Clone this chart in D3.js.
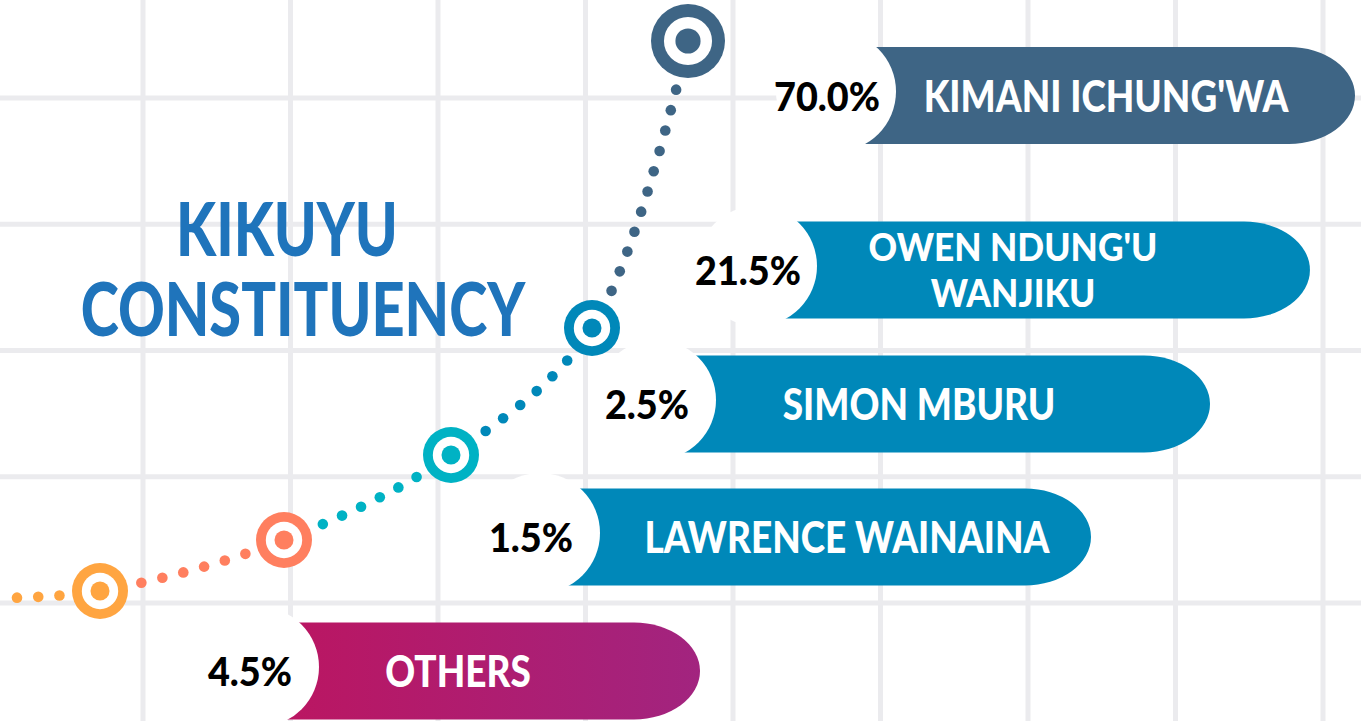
<!DOCTYPE html>
<html>
<head>
<meta charset="utf-8">
<script src="https://cdn.jsdelivr.net/npm/d3@7"></script>
<style>
  html, body { margin: 0; padding: 0; background: #fff; overflow: hidden; }
  svg { display: block; }
</style>
</head>
<body>
<svg id="chart" width="1361" height="721"></svg>
<script>
// ---- data ----
var candidates = ["KIMANI ICHUNG'WA", "OWEN NDUNG'U WANJIKU", "SIMON MBURU", "LAWRENCE WAINAINA", "OTHERS"];
var nameLines = [["KIMANI ICHUNG'WA"], ["OWEN NDUNG'U", "WANJIKU"], ["SIMON MBURU"], ["LAWRENCE WAINAINA"], ["OTHERS"]];
var shares = [70.0, 21.5, 2.5, 1.5, 4.5];
var barStart = ["#3e6585", "#0088b9", "#0088b9", "#0088b9", "#bc1560"];
var barEnd = ["#3e6585", "#0088b9", "#0088b9", "#0088b9", "#a2247f"];
var markerColors = ["#3e6585", "#0088b9", "#00b2c4", "#ff7f5f", "#ffa541"];
var titleLines = ["KIKUYU", "CONSTITUENCY"];

var width = 1361, height = 721;
var svg = d3.select("#chart");
var defs = svg.append("defs");

// ---- layout scales (infographic is laid out by rank, not by value) ----
var rowY = d3.scaleOrdinal().domain(candidates).range([95.5, 270, 404, 537, 671]);
var badgeX = d3.scaleOrdinal().domain(candidates).range([836, 757, 656, 540, 259]);
var barRight = d3.scaleOrdinal().domain(candidates).range([1355, 1310, 1210, 1091, 700]);
var nameX = d3.scaleOrdinal().domain(candidates).range([1106, 1013, 919, 847, 458]);
var markX = d3.scaleOrdinal().domain(candidates).range([688, 592, 451, 284, 100]);
var markY = d3.scaleOrdinal().domain(candidates).range([41, 328, 455, 540, 591]);
var markR = d3.scaleOrdinal().domain(candidates).range([37, 28, 28, 28, 28]);
var markColor = d3.scaleOrdinal().domain(candidates).range(markerColors);

var barH = 97, badgeR = 60, capRx = 66;
var FONT = "Lato, 'Open Sans', 'DejaVu Sans', sans-serif";

// ---- grid ----
var grid = svg.append("g").attr("stroke", "#ebebee").attr("stroke-width", 5);
grid.selectAll("line.v").data(d3.range(143, width, 147.5)).enter()
  .append("line").attr("class", "v")
  .attr("x1", function(d) { return d; }).attr("x2", function(d) { return d; })
  .attr("y1", 0).attr("y2", height);
grid.selectAll("line.h").data(d3.range(98, height + 20, 126.25)).enter()
  .append("line").attr("class", "h")
  .attr("y1", function(d) { return d; }).attr("y2", function(d) { return d; })
  .attr("x1", 0).attr("x2", width);

// ---- dotted curve + ring markers ----
var order = candidates.slice().reverse(); // left to right
var pts = [[0, 598]].concat(order.map(function(c) { return [markX(c), markY(c)]; }));
var curve = d3.line().curve(d3.curveCatmullRom.alpha(0.5));
var guide = svg.append("path").attr("d", curve(pts)).attr("fill", "none").attr("stroke", "none");
var node = guide.node(), total = node.getTotalLength();

function lengthAt(p) {
  var best = 0, bestD = Infinity;
  for (var l = 0; l <= total; l += 0.5) {
    var q = node.getPointAtLength(l);
    var dd = (q.x - p[0]) * (q.x - p[0]) + (q.y - p[1]) * (q.y - p[1]);
    if (dd < bestD) { bestD = dd; best = l; }
  }
  return best;
}
var lens = pts.map(lengthAt);

var dots = [];
for (var i = 0; i < pts.length - 1; i++) {
  var toC = order[i];
  var col = markColor(toC);
  var rFrom = i === 0 ? 0 : markR(order[i - 1]);
  var s = lens[i] + (i === 0 ? 17 : rFrom + 14);
  var e = lens[i + 1] - markR(toC) - 13;
  var n = Math.max(1, Math.round((e - s) / 21) + 1);
  for (var k = 0; k < n; k++) {
    var q = node.getPointAtLength(n === 1 ? s : s + (e - s) * k / (n - 1));
    dots.push({ x: q.x, y: q.y, c: col });
  }
}
svg.append("g").selectAll("circle").data(dots).enter().append("circle")
  .attr("cx", function(d) { return d.x; }).attr("cy", function(d) { return d.y; })
  .attr("r", 5.3).attr("fill", function(d) { return d.c; });

var marks = svg.append("g").selectAll("g").data(candidates).enter().append("g")
  .attr("transform", function(c) { return "translate(" + markX(c) + "," + markY(c) + ")"; });
marks.append("circle").attr("r", markR).attr("fill", markColor);
marks.append("circle").attr("r", function(c) { return markR(c) * 0.65; }).attr("fill", "#fff");
marks.append("circle").attr("r", function(c) { return markR(c) * 0.34; }).attr("fill", markColor);

// ---- title ----
var titleG = svg.append("g").attr("fill", "#1f74bb").attr("font-family", FONT)
  .attr("font-weight", 900).attr("font-size", 74);
titleG.selectAll("text").data(titleLines).enter().append("text")
  .attr("text-anchor", "middle")
  .attr("transform", function(d, i) {
    return "translate(" + (i === 0 ? 287 : 303) + "," + (i === 0 ? 256 : 336) + ") scale(0.78,1)";
  })
  .text(function(d) { return d; });

// ---- bars ----
candidates.forEach(function(c, i) {
  var g = defs.append("linearGradient").attr("id", "bar" + i)
    .attr("gradientUnits", "userSpaceOnUse")
    .attr("x1", badgeX(c)).attr("x2", barRight(c)).attr("y1", 0).attr("y2", 0);
  g.append("stop").attr("offset", "0%").attr("stop-color", barStart[i]);
  g.append("stop").attr("offset", "100%").attr("stop-color", barEnd[i]);
});

var rows = svg.append("g").selectAll("g").data(candidates).enter().append("g");

rows.append("path")
  .attr("fill", function(c, i) { return "url(#bar" + i + ")"; })
  .attr("d", function(c) {
    var x0 = badgeX(c), xr = barRight(c), t = rowY(c) - barH / 2, b = rowY(c) + barH / 2;
    return "M" + x0 + "," + t + "H" + (xr - capRx) +
      "A" + capRx + "," + (barH / 2) + " 0 0 1 " + (xr - capRx) + "," + b +
      "H" + x0 + "Z";
  });

rows.append("circle")
  .attr("cx", badgeX).attr("cy", function(c) { return rowY(c) - 4; })
  .attr("r", badgeR).attr("fill", "#fff");

rows.append("text")
  .attr("text-anchor", "middle")
  .attr("transform", function(c) { return "translate(" + (badgeX(c) - 9) + "," + (rowY(c) + 15) + ") scale(0.97,1)"; })
  .attr("font-family", FONT).attr("font-weight", 900).attr("font-size", 39).attr("fill", "#000")
  .text(function(c, i) { return d3.format(".1f")(shares[i]) + "%"; });

// names: wrapped names get a smaller size so their lines stay clear of each other
var nameSel = rows.selectAll("text.name")
  .data(function(c, i) {
    var lines = nameLines[i];
    return lines.map(function(t, j) { return { c: c, t: t, j: j, n: lines.length }; });
  })
  .enter().append("text")
  .attr("class", "name")
  .attr("text-anchor", "middle")
  .attr("font-family", FONT).attr("font-weight", 900).attr("fill", "#fff")
  .attr("font-size", function(d) { return d.n > 1 ? 38 : 44; })
  .attr("transform", function(d) {
    var step = 46;
    var y = rowY(d.c) + (d.n > 1 ? 14 : 16) + (d.j - (d.n - 1) / 2) * step;
    var sx = d.n > 1 ? 0.93 : 0.84;
    return "translate(" + nameX(d.c) + "," + y + ") scale(" + sx + ",1)";
  })
  .text(function(d) { return d.t; });
</script>
</body>
</html>
